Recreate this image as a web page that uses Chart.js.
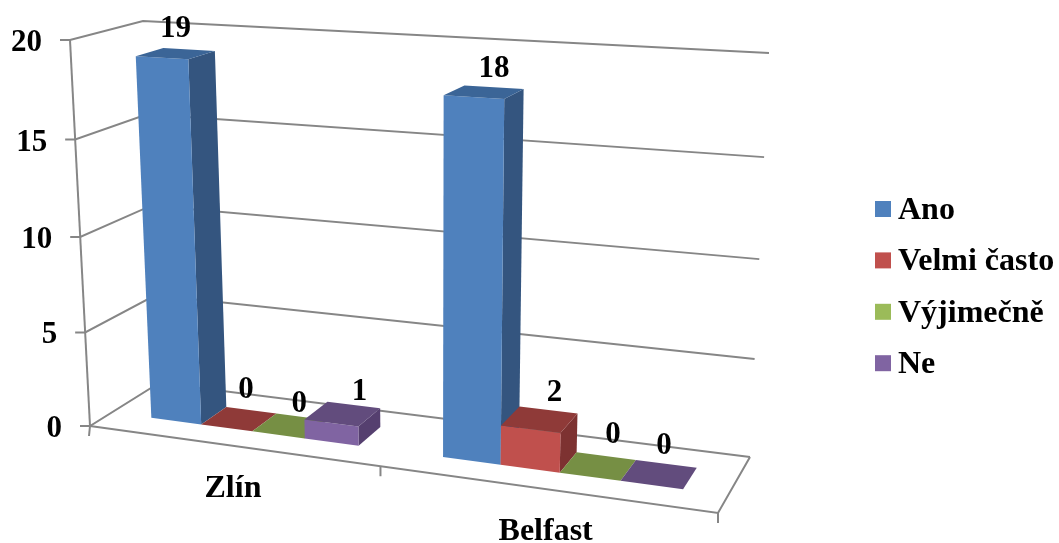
<!DOCTYPE html>
<html>
<head>
<meta charset="utf-8">
<style>
    html, body { margin: 0; padding: 0; background: #fff; }
    canvas { display: block; }
</style>
<script src="https://cdn.jsdelivr.net/npm/chart.js@4/dist/chart.umd.min.js"></script>
</head>
<body>
<canvas id="answersChart" width="1059" height="543"></canvas>
<script>
const cities = ["Zlín", "Belfast"];
const valueTicks = [0, 5, 10, 15, 20];

const seriesNames = ["Ano", "Velmi často", "Výjimečně", "Ne"];
const ano = [19, 18];
const velmiCasto = [0, 2];
const vyjimecne = [0, 0];
const ne = [1, 0];

const frontColors = ["#4f81bd", "#c0504d", "#9bbb59", "#8064a2"];
const sideColors = ["#34557f", "#7d3231", "#667c3a", "#553f6f"];
const topColors = ["#3b6597", "#8f3a38", "#768f44", "#624c7d"];

const TEXT_FONT = "bold 32px 'Liberation Serif'";
const NUMBER_FONT = "bold 31px 'Liberation Serif'";
const LINE = "#868686";

// Builds a unit square -> quad perspective map (corners: u0w0, u1w0, u1w1, u0w1)
function quadMap(q) {
    const [x0, y0] = q[0], [x1, y1] = q[1], [x2, y2] = q[2], [x3, y3] = q[3];
    const dx1 = x1 - x2, dx2 = x3 - x2, sx = x0 - x1 + x2 - x3;
    const dy1 = y1 - y2, dy2 = y3 - y2, sy = y0 - y1 + y2 - y3;
    const den = dx1 * dy2 - dx2 * dy1;
    const g = (sx * dy2 - dx2 * sy) / den;
    const h = (dx1 * sy - sx * dy1) / den;
    return function(u, w) {
        const d = g * u + h * w + 1;
        return [
            ((x1 - x0 + g * x1) * u + (x3 - x0 + h * x3) * w + x0) / d,
            ((y1 - y0 + g * y1) * u + (y3 - y0 + h * y3) * w + y0) / d
        ];
    };
}

// The box the chart stands in: floor plane and the plane at the axis maximum
const floorPlane = quadMap([[90, 426], [718, 513], [750, 457], [159, 383]]);
const topPlane = quadMap([[70, 40], [735, 77.7], [769, 53], [143, 21]]);
const HEIGHT_PERSPECTIVE = -0.04;

// u: along the categories, v: along the values, w: into the depth (all 0..1)
function project(u, v, w) {
    const t = v * (1 + HEIGHT_PERSPECTIVE) / (1 + HEIGHT_PERSPECTIVE * v);
    const a = floorPlane(u, w), b = topPlane(u, w);
    return [a[0] + (b[0] - a[0]) * t, a[1] + (b[1] - a[1]) * t];
}

function polyline(ctx, points, closed) {
    ctx.beginPath();
    points.forEach(function(p, i) {
        if (i === 0) ctx.moveTo(p[0], p[1]);
        else ctx.lineTo(p[0], p[1]);
    });
    if (closed) ctx.closePath();
}

function face(ctx, points, color) {
    polyline(ctx, points, true);
    ctx.fillStyle = color;
    ctx.fill();
}

const BAR_FRONT = 0.3;
const BAR_BACK = 0.69;
const BAR_SHIFT = 0.005;

// value label offsets from the centre of a box's top, [series][category]
const labelOffsets = [
    [[0, -25], [10, -23]],
    [[7, -29], [15, -26]],
    [[9, -22], [15, -31]],
    [[17, -22], [5, -28]]
];

const box3d = {
    id: "box3d",

    // walls, floor, axis ticks and axis labels
    beforeDatasetsDraw: function(chart) {
        const ctx = chart.ctx;
        const yScale = chart.scales.y;
        const xScale = chart.scales.x;
        const area = chart.chartArea;

        ctx.save();
        ctx.strokeStyle = LINE;
        ctx.lineWidth = 2;
        ctx.fillStyle = "#000";

        ctx.font = NUMBER_FONT;
        valueTicks.forEach(function(tick) {
            const v = (area.bottom - yScale.getPixelForValue(tick)) / area.height;
            const a = project(0, v, 0);
            polyline(ctx, [[a[0] - 10, a[1]], a, project(0, v, 1), project(1, v, 1)]);
            ctx.stroke();
            ctx.textAlign = "right";
            ctx.textBaseline = "middle";
            ctx.fillText(String(tick), a[0] - 28, a[1] + 3);
        });

        polyline(ctx, [project(0, 1, 0), project(0, 0, 0)]);
        ctx.stroke();
        polyline(ctx, [project(0, 0, 0), project(1, 0, 0), project(1, 0, 1)]);
        ctx.stroke();

        [0, 0.5, 1].forEach(function(u) {
            const p = project(u, 0, 0);
            polyline(ctx, [p, [p[0] - (u === 0 ? 1 : 0), p[1] + 10]]);
            ctx.stroke();
        });

        ctx.font = TEXT_FONT;
        cities.forEach(function(city, i) {
            const u = (xScale.getPixelForValue(i) - area.left) / area.width;
            const p = project(u, 0, 0);
            ctx.textAlign = "center";
            ctx.textBaseline = "middle";
            ctx.fillText(city, p[0] + 3, p[1] + 43);
        });
        ctx.restore();
    },

    // the default flat rectangles are replaced by the boxes below
    beforeDatasetDraw: function() {
        return false;
    },

    afterDatasetsDraw: function(chart) {
        const ctx = chart.ctx;
        const area = chart.chartArea;
        const labels = [];

        chart.data.datasets.forEach(function(dataset, s) {
            chart.getDatasetMeta(s).data.forEach(function(bar, i) {
                const u0 = (bar.x - bar.width / 2 - area.left) / area.width + BAR_SHIFT;
                const u1 = (bar.x + bar.width / 2 - area.left) / area.width + BAR_SHIFT;
                const v = (area.bottom - bar.y) / area.height;
                const f = BAR_FRONT, b = BAR_BACK;

                if (v > 0) {
                    face(ctx, [project(u1, 0, f), project(u1, 0, b), project(u1, v, b), project(u1, v, f)], sideColors[s]);
                    face(ctx, [project(u0, 0, f), project(u1, 0, f), project(u1, v, f), project(u0, v, f)], frontColors[s]);
                }
                face(ctx, [project(u0, v, f), project(u1, v, f), project(u1, v, b), project(u0, v, b)], topColors[s]);

                const mid = project((u0 + u1) / 2, v, (f + b) / 2);
                const off = labelOffsets[s][i];
                labels.push([String(dataset.data[i]), mid[0] + off[0], mid[1] + off[1]]);
            });
        });

        ctx.save();
        ctx.font = NUMBER_FONT;
        ctx.fillStyle = "#000";
        ctx.textAlign = "center";
        ctx.textBaseline = "middle";
        labels.forEach(function(l) {
            ctx.fillText(l[0], l[1], l[2]);
        });
        ctx.restore();
    },

    // legend on the right side
    afterDraw: function(chart) {
        const ctx = chart.ctx;
        ctx.save();
        ctx.font = TEXT_FONT;
        ctx.textAlign = "left";
        ctx.textBaseline = "alphabetic";
        seriesNames.forEach(function(name, s) {
            const y = 209 + s * 51.4;
            ctx.fillStyle = frontColors[s];
            ctx.fillRect(875, y - 8, 16, 16);
            ctx.fillStyle = "#000";
            ctx.fillText(name, 898, y + 10);
        });
        ctx.restore();
    }
};

const seriesValues = [ano, velmiCasto, vyjimecne, ne];

new Chart(document.getElementById("answersChart").getContext("2d"), {
    type: "bar",
    data: {
        labels: cities,
        datasets: seriesNames.map(function(name, s) {
            return {
                label: name,
                data: seriesValues[s],
                backgroundColor: frontColors[s],
                categoryPercentage: 0.725,
                barPercentage: 1
            };
        })
    },
    options: {
        responsive: false,
        animation: false,
        layout: { padding: 0 },
        plugins: {
            legend: { display: false },
            tooltip: { enabled: false }
        },
        scales: {
            x: { display: false },
            y: { display: false, min: 0, max: 20 }
        }
    },
    plugins: [box3d]
});
</script>
</body>
</html>
